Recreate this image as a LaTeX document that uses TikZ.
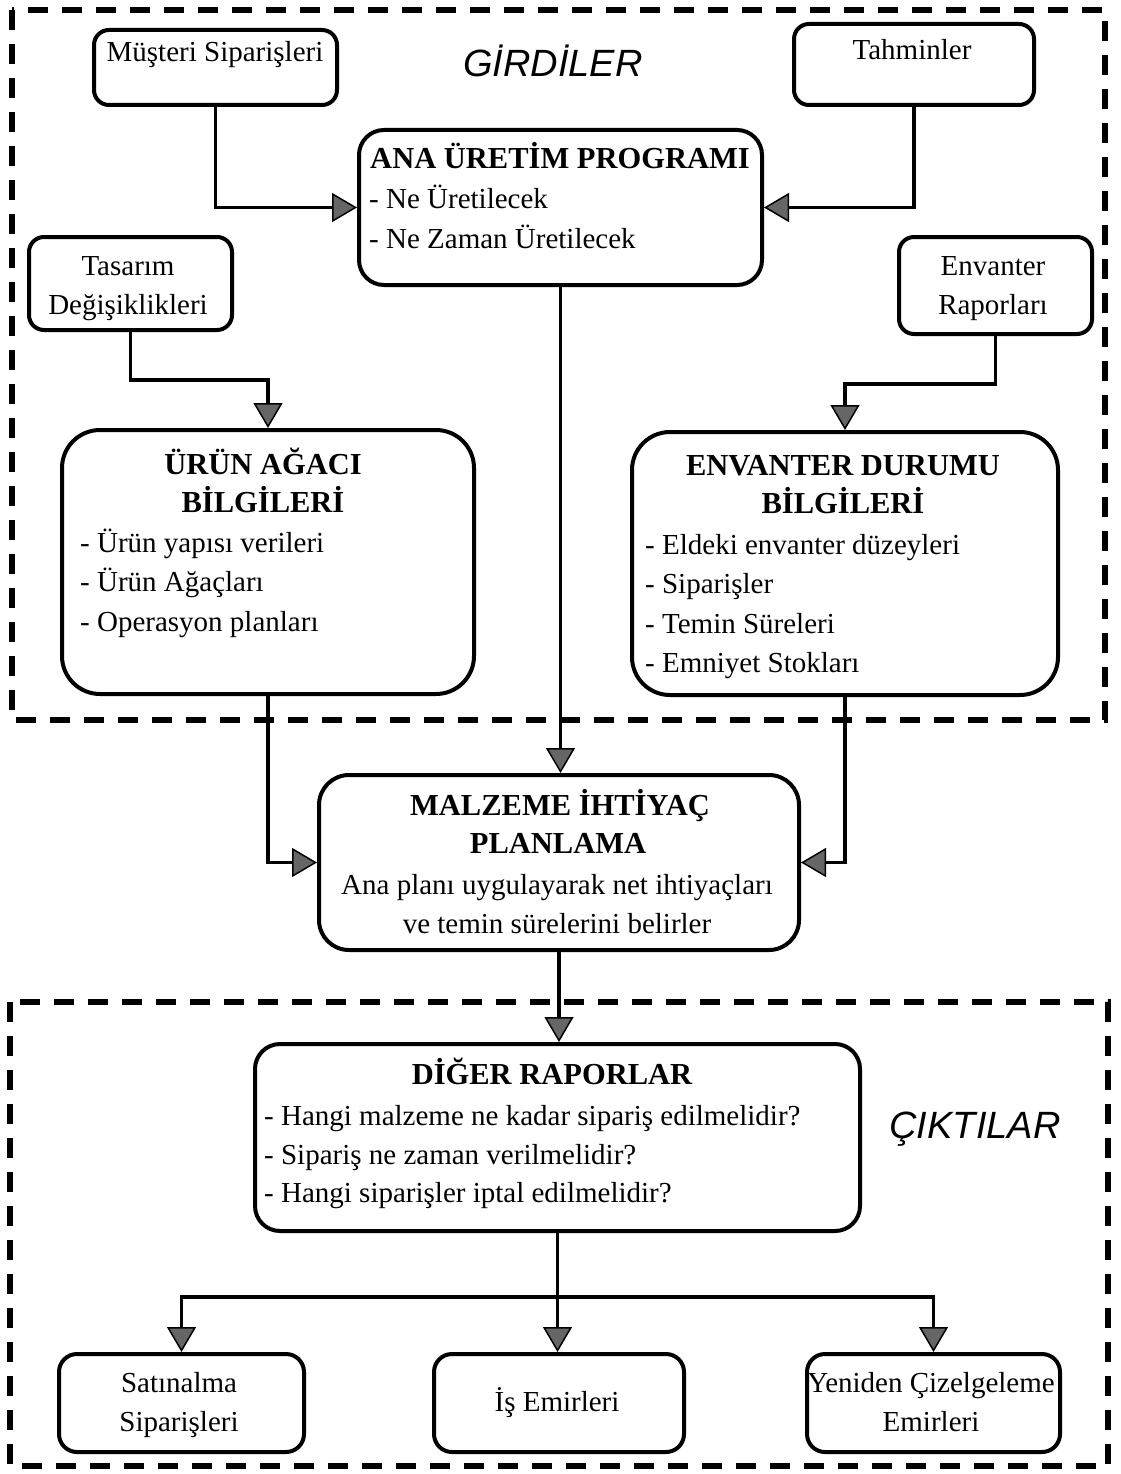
\documentclass[tikz,border=0pt]{standalone}
\usepackage{fontspec}
\setmainfont{Liberation Serif}
\newfontfamily\hdfont{Liberation Sans}
\usetikzlibrary{arrows.meta}
\begin{document}
\begin{tikzpicture}[x=1pt,y=-1pt,
  box/.style={draw, line width=4pt, fill=white, inner sep=0pt, anchor=north west},
  txt/.style={inner sep=0pt, font=\fontsize{29}{40}\selectfont},
  ttl/.style={inner sep=0pt, font=\fontsize{30.5}{40}\selectfont\bfseries},
  hd/.style={inner sep=0pt, font=\hdfont\itshape\fontsize{38}{44}\selectfont},
  conn/.style={line width=3.8pt, -{Triangle[length=25pt,width=29pt,fill=black!60,line width=1.5pt]}},
  dashbox/.style={line width=5.5pt, dash pattern=on 20pt off 14pt}]
\fill[white] (0,0) rectangle (1120,1474);
\useasboundingbox (0,0) rectangle (1120,1474);

% frames
\draw[dashbox] (12,10) rectangle (1105,720);
\draw[dashbox] (10,1002) rectangle (1108,1466);

% boxes
\node[box, rounded corners=15pt, minimum width=243pt, minimum height=75pt] (mus) at (92,28) {};
\node[box, rounded corners=15pt, minimum width=240pt, minimum height=81pt] (tah) at (792,22) {};
\node[box, rounded corners=25pt, minimum width=403pt, minimum height=155pt] (ana) at (357,128) {};
\node[box, rounded corners=15pt, minimum width=203pt, minimum height=93pt] (tas) at (27,235) {};
\node[box, rounded corners=15pt, minimum width=193pt, minimum height=97pt] (envr) at (897,235) {};
\node[box, rounded corners=38pt, minimum width=412pt, minimum height=264pt] (urun) at (60,428) {};
\node[box, rounded corners=38pt, minimum width=426pt, minimum height=263pt] (envd) at (630,430) {};
\node[box, rounded corners=30pt, minimum width=480pt, minimum height=175pt] (malz) at (317,773) {};
\node[box, rounded corners=25pt, minimum width=605pt, minimum height=187pt] (dig) at (253,1042) {};
\node[box, rounded corners=18pt, minimum width=245pt, minimum height=98pt] (sat) at (57,1352) {};
\node[box, rounded corners=18pt, minimum width=250pt, minimum height=98pt] (is) at (432,1352) {};
\node[box, rounded corners=18pt, minimum width=253pt, minimum height=98pt] (yen) at (805,1352) {};

% headings
\node[hd, anchor=base] (girdi) at (553,77) {GİRDİLER};
\node[hd, anchor=base] (cikti) at (975,1138) {ÇIKTILAR};

% texts
\node[txt, anchor=base] (t-mus) at (215,62) {Müşteri Siparişleri};
\node[txt, anchor=base] (t-tah) at (912,60) {Tahminler};

\node[ttl, anchor=base] (t-ana) at (560,168) {ANA ÜRETİM PROGRAMI};
\node[txt, anchor=base west] (t-ana1) at (369,208) {- Ne Üretilecek};
\node[txt, anchor=base west] (t-ana2) at (369,248) {- Ne Zaman Üretilecek};

\node[txt, anchor=base] (t-tas1) at (128,275) {Tasarım};
\node[txt, anchor=base] (t-tas2) at (128,314) {Değişiklikleri};
\node[txt, anchor=base] (t-env1) at (993,275) {Envanter};
\node[txt, anchor=base] (t-env2) at (993,314) {Raporları};

\node[ttl, anchor=base] (t-ur1) at (263,474) {ÜRÜN AĞACI};
\node[ttl, anchor=base] (t-ur2) at (263,512) {BİLGİLERİ};
\node[txt, anchor=base west] (t-ur3) at (80,552) {- Ürün yapısı verileri};
\node[txt, anchor=base west] (t-ur4) at (80,591) {- Ürün Ağaçları};
\node[txt, anchor=base west] (t-ur5) at (80,631) {- Operasyon planları};

\node[ttl, anchor=base] (t-ed1) at (843,475) {ENVANTER DURUMU};
\node[ttl, anchor=base] (t-ed2) at (843,513) {BİLGİLERİ};
\node[txt, anchor=base west] (t-ed3) at (645,554) {- Eldeki envanter düzeyleri};
\node[txt, anchor=base west] (t-ed4) at (645,593) {- Siparişler};
\node[txt, anchor=base west] (t-ed5) at (645,633) {- Temin Süreleri};
\node[txt, anchor=base west] (t-ed6) at (645,672) {- Emniyet Stokları};

\node[ttl, anchor=base] (t-m1) at (560,815) {MALZEME İHTİYAÇ};
\node[ttl, anchor=base] (t-m2) at (558,853) {PLANLAMA};
\node[txt, anchor=base] (t-m3) at (557,894) {Ana planı uygulayarak net ihtiyaçları};
\node[txt, anchor=base] (t-m4) at (557,933) {ve temin sürelerini belirler};

\node[ttl, anchor=base] (t-d1) at (552,1084) {DİĞER RAPORLAR};
\node[txt, anchor=base west] (t-d2) at (264,1125) {- Hangi malzeme ne kadar sipariş edilmelidir?};
\node[txt, anchor=base west] (t-d3) at (264,1164) {- Sipariş ne zaman verilmelidir?};
\node[txt, anchor=base west] (t-d4) at (264,1202) {- Hangi siparişler iptal edilmelidir?};

\node[txt, anchor=base] (t-s1) at (179,1392) {Satınalma};
\node[txt, anchor=base] (t-s2) at (179,1431) {Siparişleri};
\node[txt, anchor=base] (t-i1) at (557,1411) {İş Emirleri};
\node[txt, anchor=base] (t-y1) at (931,1392) {Yeniden Çizelgeleme};
\node[txt, anchor=base] (t-y2) at (931,1431) {Emirleri};

% connectors
\draw[conn] (mus.south) |- (ana.west);
\draw[conn] (tah.south) |- (ana.east);
\draw[conn] (tas.south) -- ++(0,48) -| (urun.north);
\draw[conn] (envr.south) -- ++(0,48) -| (envd.north);
\draw[conn] (ana.south) -- (ana.south |- malz.north);
\draw[conn] (urun.south) |- (malz.west);
\draw[conn] (envd.south) |- (malz.east);
\draw[conn] (malz.south) -- (malz.south |- dig.north);
\path (dig.south) ++(0,64) coordinate (br);
\draw[conn] (dig.south) -- (dig.south |- is.north);
\draw[conn] (br) -| (sat.north);
\draw[conn] (br) -| (yen.north);
\end{tikzpicture}
\end{document}
